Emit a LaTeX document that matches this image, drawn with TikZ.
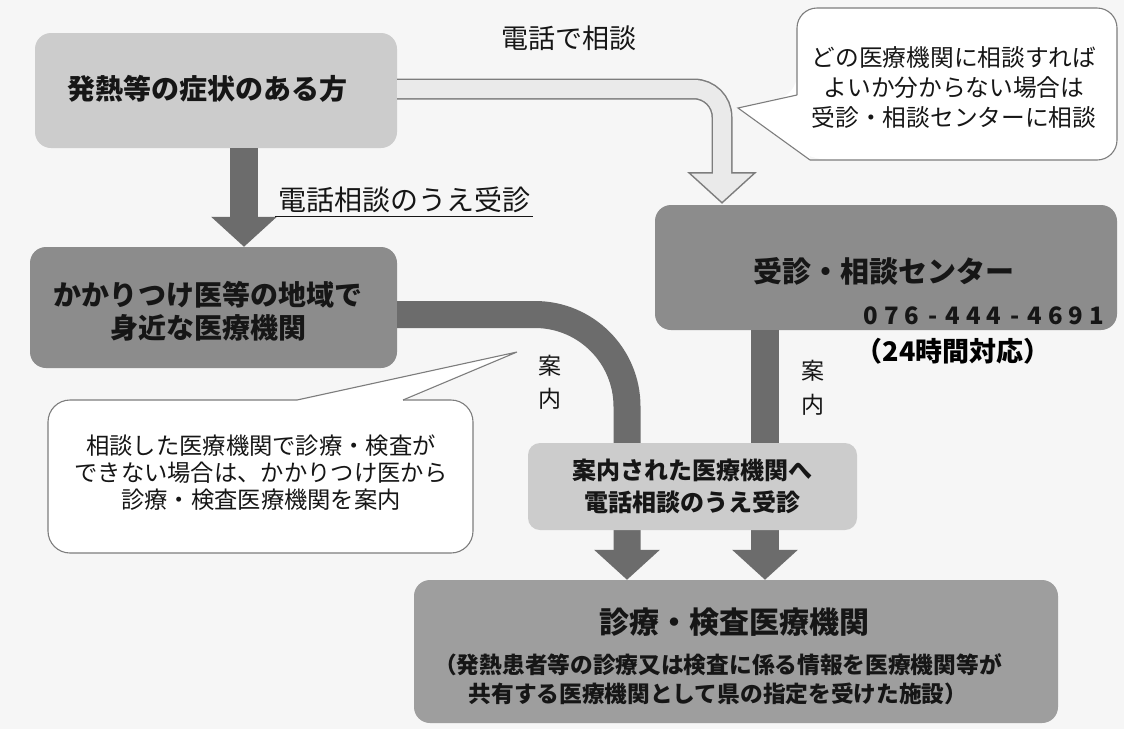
\documentclass[tikz,border=0pt]{standalone}
\usepackage{fontspec}
\setmainfont{Noto Sans CJK JP}
\usetikzlibrary{arrows.meta,calc}
\definecolor{bg}{RGB}{246,246,246}
\definecolor{boxlight}{RGB}{204,204,204}
\definecolor{boxdark}{RGB}{140,140,140}
\definecolor{boxmid}{RGB}{158,158,158}
\definecolor{arrowdark}{RGB}{108,108,108}
\definecolor{arrowlight}{RGB}{234,234,234}
\definecolor{lineg}{RGB}{125,125,125}
\definecolor{ink}{RGB}{22,22,22}
\newcommand\pdig[1]{\makebox[20.5pt]{#1}}
\begin{document}
\begin{tikzpicture}[x=1pt,y=-1pt,
  box/.style={rounded corners=16pt, inner sep=0pt, text=ink, font=\bfseries, align=center},
  fatarrow/.style={draw=arrowdark, line width=28pt, -{Triangle[width=64pt,length=30pt]}},
  callout/.style={draw=lineg, line width=1.1pt},
  ftxt/.style={text=ink, align=center, inner sep=0pt}]
\fill[bg] (0,0) rectangle (1124,729);
\useasboundingbox (0,0) rectangle (1124,729);
% boxes
\node[box, fill=boxlight, minimum width=362pt, minimum height=115pt] (A) at (216,90.5) {};
\node[box, fill=boxdark, minimum width=367pt, minimum height=121pt] (B) at (213.5,307.5) {};
\node[box, fill=boxdark, minimum width=462pt, minimum height=125pt] (C) at (886,267.5) {};
\node[box, fill=boxmid, minimum width=644pt, minimum height=143pt] (E) at (736,651.5) {};
% helper coordinates
\coordinate (ab) at (244,0);
\coordinate (lc) at (722,0);
\coordinate (le) at (627,0);
\coordinate (rc) at (765,0);
% arrows
\draw[fatarrow] (A.south -| ab) -- (B.north -| ab);
\draw[fatarrow, line width=27pt, rounded corners=92pt] ([yshift=-7pt]B.east) -| (E.north -| le);
\draw[fatarrow] (C.south -| rc) -- (E.north -| rc);
\coordinate (lt) at ($(C.north -| lc)+(0,-2)$);
\draw[draw=lineg, line width=21pt, rounded corners=28pt] ([yshift=1.5pt]A.east) -- ([yshift=1.5pt]A.east -| lt) -- ($(lt)+(0,-29)$);
\filldraw[fill=arrowlight, draw=lineg, line width=1.4pt] ($(lt)+(-33,-30)$) -- (lt) -- ($(lt)+(33,-30)$) -- cycle;
\draw[draw=arrowlight, line width=18pt, rounded corners=28pt] ([yshift=1.5pt]A.east) -- ([yshift=1.5pt]A.east -| lt) -- ($(lt)+(0,-28)$);
% box D on top
\node[box, fill=boxlight, rounded corners=12pt, minimum width=329pt, minimum height=87pt,
      font=\bfseries\fontsize{24}{32}\selectfont] (D) at (692.5,486.5) {案内された医療機関へ\\電話相談のうえ受診};
% texts in boxes
\node[ftxt, font=\bfseries\fontsize{28}{32}\selectfont] (At) at (207,89) {発熱等の症状のある方};
\node[ftxt, font=\bfseries\fontsize{28}{33}\selectfont] (Bt) at (208,311.5) {かかりつけ医等の地域で\\身近な医療機関};
\node[ftxt, font=\bfseries\fontsize{29}{32}\selectfont] (Ct) at (884,271) {受診・相談センター};
\node[ftxt, font=\bfseries\fontsize{24}{28}\selectfont] (Cp) at (984,316) {\pdig0\pdig7\pdig6\pdig-\pdig4\pdig4\pdig4\pdig-\pdig4\pdig6\pdig9\pdig1};
\node[ftxt, font=\bfseries\fontsize{27}{28}\selectfont, text=black] (Ch) at (953,351) {（24時間対応）};
\node[ftxt, font=\bfseries\fontsize{30}{32}\selectfont] (Et) at (734,622) {診療・検査医療機関};
\node[ftxt, font=\bfseries\fontsize{22.7}{29}\selectfont] (Es) at (718,679) {（発熱患者等の診療又は検査に係る情報を医療機関等が\\共有する医療機関として県の指定を受けた施設）};
% labels
\node[ftxt, font=\fontsize{27}{28}\selectfont] (L0) at (569,38) {電話で相談};
\node[ftxt, font=\fontsize{28}{28}\selectfont, inner sep=3pt] (L1) at (404,200) {電話相談のうえ受診};
\draw[ink, line width=1.3pt] (L1.south west) -- (L1.south east);
\node[ftxt, font=\fontsize{23}{33}\selectfont] (L2) at (550,382) {案\\内};
\node[ftxt, font=\fontsize{23}{34}\selectfont] (L3) at (813,388) {案\\内};
% callout 1
\fill[white, rounded corners=20pt] (797,95) -- (797,8) -- (1117,8) -- (1117,160) -- (810,160) -- (738,108) -- cycle;
\fill[white] (798,95) -- (738,108) -- (810,159) -- (805,120) -- cycle;
\draw[callout, rounded corners=20pt] (797,95) -- (797,8) -- (1117,8) -- (1117,160) -- (810,160);
\draw[callout] (810,160) -- (738,108) -- (797,95);
\node[ftxt, font=\fontsize{23.7}{30}\selectfont] (N1) at (954,88) {どの医療機関に相談すれば\\よいか分からない場合は\\受診・相談センターに相談};
% callout 2
\fill[white, rounded corners=22pt] (403,400) -- (473,400) -- (473,553) -- (48,553) -- (48,400) -- (297,400) -- cycle;
\fill[white] (297,401) -- (517,352) -- (403,401) -- cycle;
\draw[callout, rounded corners=22pt] (403,400) -- (473,400) -- (473,553) -- (48,553) -- (48,400) -- (297,400);
\draw[callout] (297,400) -- (517,352) -- (403,400);
\node[ftxt, font=\fontsize{23.3}{27}\selectfont] (N2) at (261,473) {相談した医療機関で診療・検査が\\できない場合は、かかりつけ医から\\診療・検査医療機関を案内};
\end{tikzpicture}
\end{document}
